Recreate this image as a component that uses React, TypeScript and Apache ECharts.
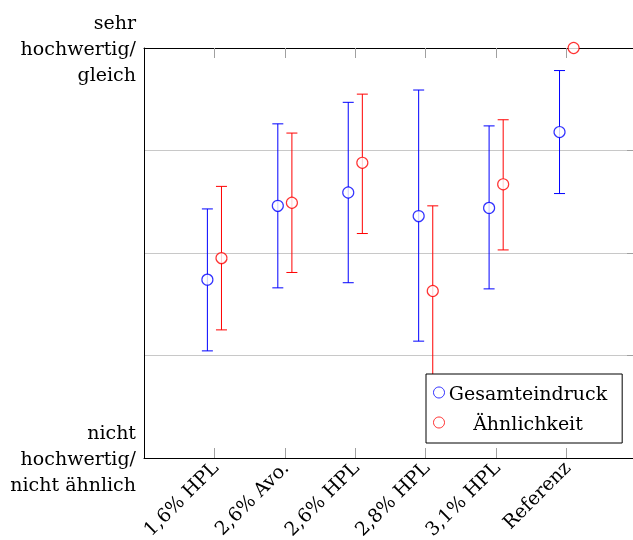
import React, { useEffect, useRef } from "react";
import * as echarts from "echarts";

const categories = ["1,6% HPL", "2,6% Avo.", "2,6% HPL", "2,8% HPL", "3,1% HPL", "Referenz"];
const categoryPositions = [1, 2, 3, 4, 5, 6];
const innerYTicks = [1, 2, 3];
const yTopLabel = "sehr\nhochwertig/\ngleich";
const yBottomLabel = "nicht\nhochwertig/\nnicht ähnlich";

const blueName = "Gesamteindruck";
const blueMean = [1.74, 2.46, 2.59, 2.36, 2.44, 3.18];
const blueLow = [1.045, 1.66, 1.71, 1.14, 1.65, 2.58];
const blueHigh = [2.43, 3.26, 3.47, 3.59, 3.24, 3.78];

const redName = "Ähnlichkeit";
const redMean = [1.95, 2.49, 2.88, 1.63, 2.67, 4.0];
const redLow: (number | null)[] = [1.25, 1.81, 2.19, 0.72, 2.03, null];
const redHigh: (number | null)[] = [2.65, 3.17, 3.55, 2.46, 3.3, null];

const OFFSET = 0.1;
const FONT = "'DejaVu Serif', 'Liberation Serif', serif";
const BLUE = "#0000ff";
const RED = "#ff0000";

function errorSeries(low: (number | null)[], high: (number | null)[], off: number, color: string) {
  const data = low
    .map((l, i) => (l == null || high[i] == null ? null : [i + 1 + off, l, high[i]]))
    .filter((d) => d !== null);
  return {
    type: "custom",
    z: 2,
    clip: false,
    silent: true,
    encode: { x: 0, y: [1, 2] },
    data,
    renderItem: (params: any, api: any) => {
      const x = api.value(0);
      const lo = api.coord([x, api.value(1)]);
      const hi = api.coord([x, api.value(2)]);
      const cap = 5.5;
      const style = { stroke: color, lineWidth: 1 };
      return {
        type: "group",
        children: [
          { type: "line", shape: { x1: lo[0], y1: lo[1], x2: hi[0], y2: hi[1] }, style },
          { type: "line", shape: { x1: lo[0] - cap, y1: lo[1], x2: lo[0] + cap, y2: lo[1] }, style },
          { type: "line", shape: { x1: hi[0] - cap, y1: hi[1], x2: hi[0] + cap, y2: hi[1] }, style },
        ],
      };
    },
  };
}

export default function App() {
  const ref = useRef<HTMLDivElement>(null);
  useEffect(() => {
    if (!ref.current) return;
    const chart = echarts.init(ref.current, undefined, { renderer: "svg" });
    const tickLine = { color: "#a0a0a0", width: 1 };
    chart.setOption({
      animation: false,
      textStyle: { fontFamily: FONT },
      grid: { left: 144, top: 48, width: 493, height: 410, containLabel: false, outerBoundsMode: "none" },
      xAxis: [
        {
          type: "value",
          min: 0,
          max: 7,
          interval: 1,
          position: "bottom",
          axisLine: { show: true, onZero: false, lineStyle: { color: "#000", width: 1 } },
          axisTick: { show: true, inside: true, length: 10, lineStyle: tickLine, customValues: categoryPositions },
          splitLine: { show: false },
          axisLabel: {
            rotate: 45,
            margin: 6,
            fontFamily: FONT,
            fontSize: 19,
            color: "#000",
            customValues: categoryPositions,
            formatter: (v: number) => categories[v - 1] ?? "",
          },
        },
        {
          type: "value",
          min: 0,
          max: 7,
          interval: 1,
          position: "top",
          axisLine: { show: true, onZero: false, lineStyle: { color: "#000", width: 1 } },
          axisTick: { show: true, inside: true, length: 10, lineStyle: tickLine, customValues: categoryPositions },
          splitLine: { show: false },
          axisLabel: { show: false },
        },
      ],
      yAxis: [
        {
          type: "value",
          min: 0,
          max: 4,
          interval: 1,
          position: "left",
          axisLine: { show: true, onZero: false, lineStyle: { color: "#000", width: 1 } },
          axisTick: { show: false },
          splitLine: { show: true, showMinLine: false, showMaxLine: false, lineStyle: { color: "#c8c8c8", width: 1 } },
          axisLabel: {
            margin: 8,
            fontFamily: FONT,
            fontSize: 19,
            lineHeight: 26,
            color: "#000",
            align: "right",
            showMinLabel: true,
            showMaxLabel: true,
            formatter: (v: number) => (v === 4 ? yTopLabel : v === 0 ? yBottomLabel : ""),
          },
        },
        {
          type: "value",
          min: 0,
          max: 4,
          interval: 1,
          position: "right",
          axisLine: { show: false, onZero: false },
          axisTick: { show: true, inside: true, length: 10, lineStyle: tickLine, customValues: innerYTicks },
          splitLine: { show: false },
          axisLabel: { show: false },
        },
      ],
      legend: {
        orient: "vertical",
        left: 426,
        top: 374,
        backgroundColor: "#fff",
        borderColor: "#000",
        borderWidth: 1,
        borderRadius: 0,
        padding: [9, 15, 11, 7],
        itemWidth: 11,
        itemHeight: 11,
        itemGap: 11,
        selectedMode: false,
        formatter: (name: string) => `{t|${name}}`,
        textStyle: {
          color: "#000",
          fontFamily: FONT,
          fontSize: 19,
          rich: { t: { width: 157, height: 20, align: "center", fontFamily: FONT, fontSize: 19, color: "#000" } },
        },
        data: [
          { name: blueName, icon: "circle", itemStyle: { color: "#fff", borderColor: BLUE, borderWidth: 1 } },
          { name: redName, icon: "circle", itemStyle: { color: "#fff", borderColor: RED, borderWidth: 1 } },
        ],
      },
      series: [
        errorSeries(blueLow, blueHigh, -OFFSET, BLUE),
        errorSeries(redLow, redHigh, OFFSET, RED),
        {
          name: blueName,
          type: "scatter",
          z: 3,
          clip: false,
          symbol: "circle",
          symbolSize: 11,
          itemStyle: { color: "#fff", borderColor: BLUE, borderWidth: 1.2 },
          data: blueMean.map((v, i) => [i + 1 - OFFSET, v]),
        },
        {
          name: redName,
          type: "scatter",
          z: 3,
          clip: false,
          symbol: "circle",
          symbolSize: 11,
          itemStyle: { color: "#fff", borderColor: RED, borderWidth: 1.2 },
          data: redMean.map((v, i) => [i + 1 + OFFSET, v]),
        },
      ],
    });
    return () => chart.dispose();
  }, []);
  return <div ref={ref} style={{ position: "fixed", left: 0, top: 0, width: 633, height: 540 }} />;
}
